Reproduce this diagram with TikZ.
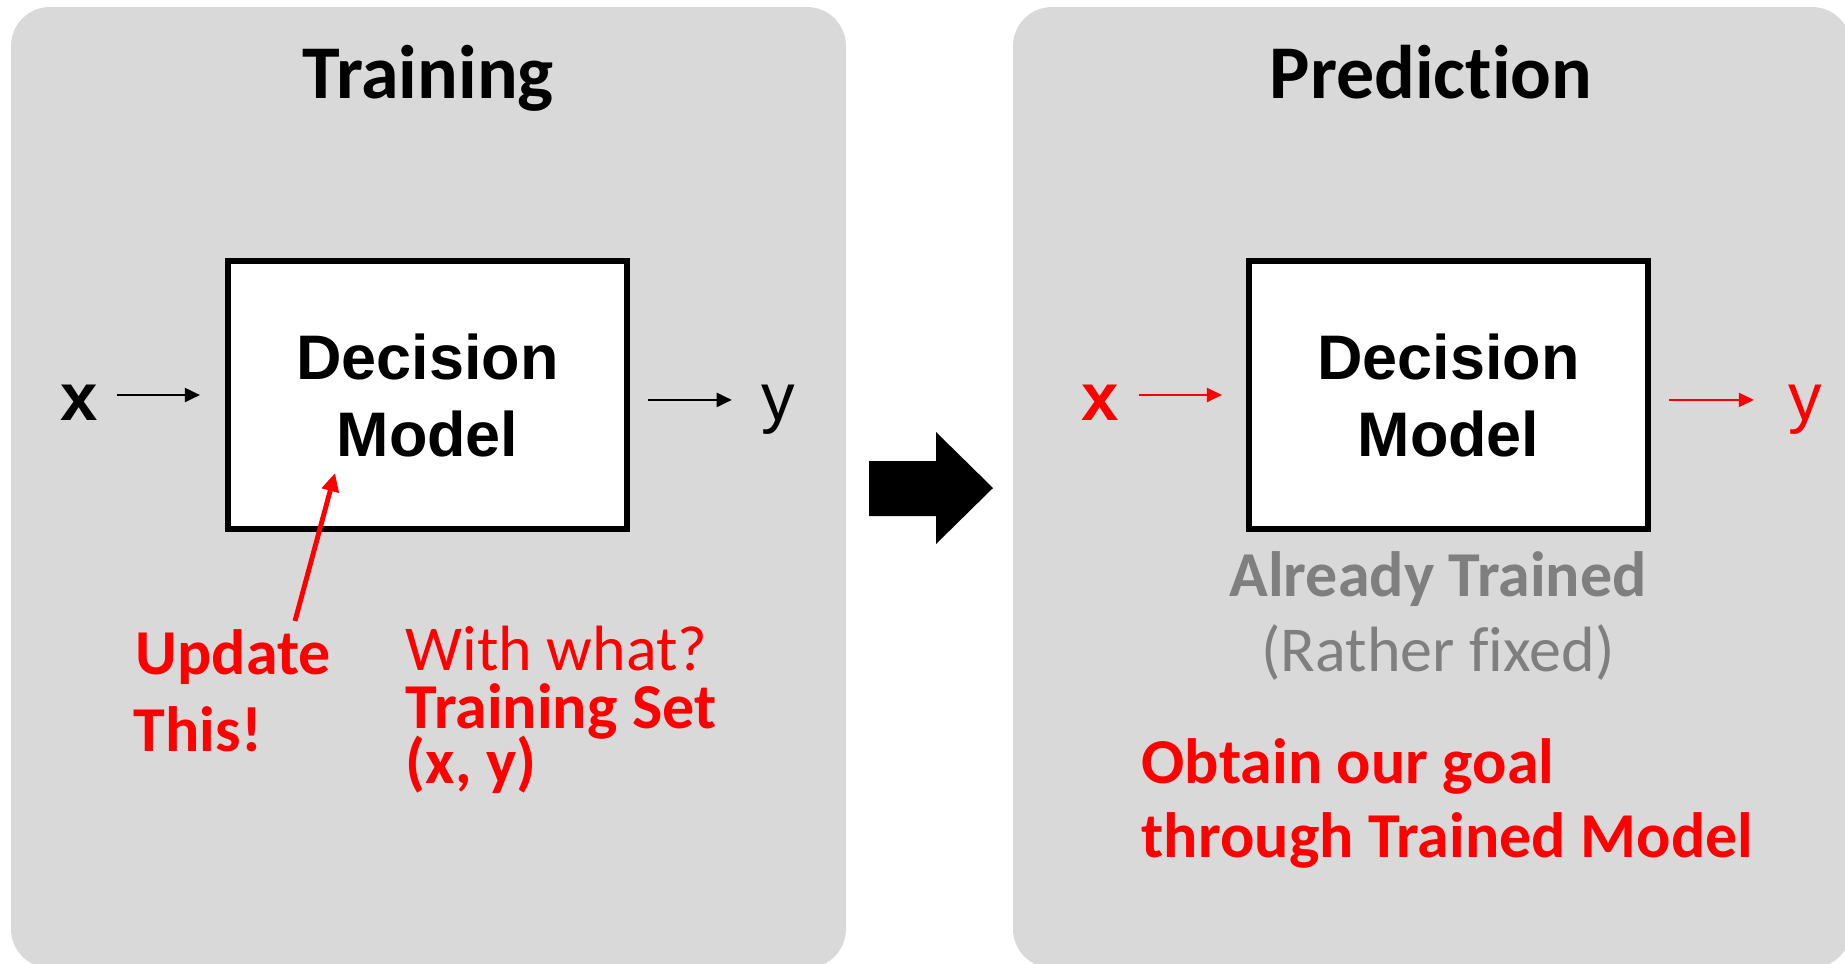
\documentclass[tikz,border=0pt]{standalone}
\usepackage{fontspec}
\setmainfont{Carlito}[Ligatures=NoCommon]
\newfontfamily\arialfont{Liberation Sans}
\usepackage{xcolor}
\usetikzlibrary{arrows.meta}

\definecolor{panelgray}{RGB}{217,217,217}
\definecolor{fixedgray}{RGB}{127,127,127}

\tikzset{
    ttl/.style={font=\bfseries\fontsize{21.6}{26}\selectfont, anchor=base, inner sep=0},
    model/.style={draw, line width=1.7pt, fill=white, minimum width=3.99cm, minimum height=2.68cm,
        align=center, inner sep=0, font=\arialfont\bfseries\fontsize{17.9}{21.9}\selectfont},
    io/.style={font=\arialfont\fontsize{19.1}{23}\selectfont, anchor=base west, inner sep=0},
    iobold/.style={io, font=\arialfont\bfseries\fontsize{19.1}{23}\selectfont},
    note/.style={font=\fontsize{18.2}{22}\selectfont, anchor=base west, inner sep=0, text=red},
    strong/.style={note, font=\bfseries\fontsize{18.2}{22}\selectfont},
    flow/.style={-{Triangle[length=4.3pt,width=4pt]}, line width=0.6pt},
}

\begin{document}
\begin{tikzpicture}[x=0.01cm, y=-0.01cm]
        \useasboundingbox (0,0) rectangle (1845,963);

        \fill[panelgray, rounded corners=0.39cm] (11,7) rectangle (846,968);
        \fill[panelgray, rounded corners=0.39cm] (1013,7) rectangle (1851,968);

        \fill (869,461) -- (936,461) -- (936,432) -- (993,488) -- (936,544) -- (936,516) -- (869,516) -- cycle;

        \node[ttl] (trainT) at (428,98) {Training};
        \node[ttl] (predT) at (1431,98) {Prediction};

        % training side
        \node[model] (boxT) at (427.5,395) {Decision\\Model};
        \node[iobold] (xT) at (60,420) {x};
        \node[io] (yT) at (761,420) {y};

        \draw[flow, shorten <=5.3pt, shorten >=7.1pt] (xT.east |- boxT.west) -- (boxT.west);
        \draw[flow, shorten <=5.1pt, shorten >=8.3pt] ([yshift=-1.4pt]boxT.east) -- ([yshift=-1.4pt]boxT.east -| yT.west);

        \node[strong] (upd) at (135,674) {Update};
        \node[strong] (this) at (133,751) {This!};
        \coordinate (updTail) at (295,621);
        \coordinate (updHead) at (335,473);
        \draw[red, line width=1.4pt, -{Triangle[length=5.2pt,width=4.8pt]}] (updTail) -- (updHead);

        \node[note] (what) at (405,670) {With what?};
        \node[strong] (tset) at (405,728) {Training Set};
        \node[strong] (pair) at (405,783) {(x, y)};

        % prediction side
        \node[model] (boxP) at (1448.5,395) {Decision\\Model};
        \node[iobold, text=red] (xP) at (1081,420) {x};
        \node[io, text=red] (yP) at (1788,420) {y};

        \draw[flow, red, shorten <=5.4pt, shorten >=6.8pt] (xP.east |- boxP.west) -- (boxP.west);
        \draw[flow, red, shorten <=5.1pt, shorten >=9.7pt] ([yshift=-1.4pt]boxP.east) -- ([yshift=-1.4pt]boxP.east -| yP.west);

        \node[strong, text=fixedgray, anchor=base] (already) at (1438,596) {Already Trained};
        \node[note, text=fixedgray, anchor=base] (rather) at (1438,671) {(Rather fixed)};

        \node[strong] (goal) at (1141,783) {Obtain our goal};
        \node[strong] (thru) at (1141,857) {through Trained Model};
\end{tikzpicture}
\end{document}
